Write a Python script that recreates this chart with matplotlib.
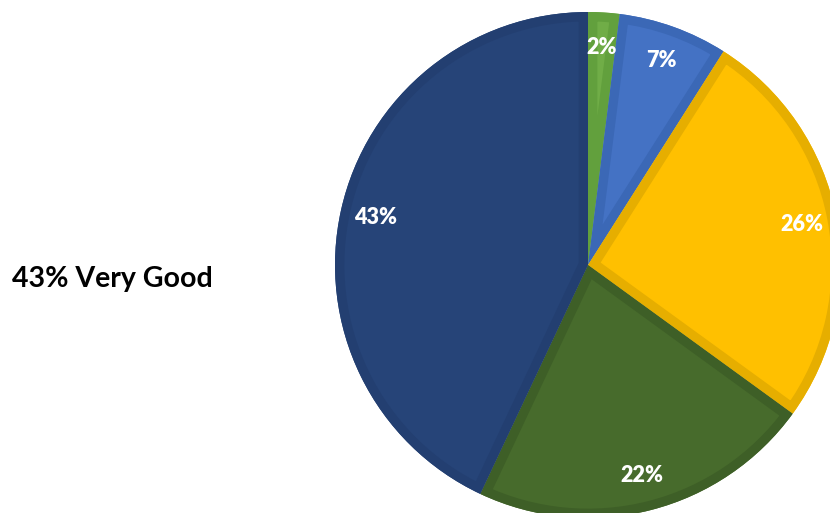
import matplotlib
matplotlib.use("Agg")
import matplotlib.pyplot as plt
from matplotlib.patches import PathPatch

# Rating shares, drawn clockwise from 12 o'clock
shares = [2, 7, 26, 22, 43]
fill_colors = ["#70AD47", "#4472C4", "#FFC000", "#476B2C", "#264478"]
edge_colors = ["#62A03D", "#3B68B6", "#E6AE00", "#3E5F27", "#233F71"]
headline = "43% Very Good"

FONT = ["Lato", "DejaVu Sans"]

W, H = 830, 513
fig = plt.figure(figsize=(W / 100, H / 100), dpi=100)
ax = fig.add_axes([0, 0, 1, 1])

cx, cy, R = 588, H - 265, 253
wedges, texts, autotexts = ax.pie(
    shares,
    colors=fill_colors,
    startangle=90,
    counterclock=False,
    center=(cx, cy),
    radius=R,
    autopct=lambda p: f"{p:.0f}%",
    pctdistance=0.86,
    wedgeprops=dict(linewidth=0),
    textprops=dict(color="white", fontsize=15.5, fontweight="heavy", family=FONT),
    frame=False,
)

# Darker inner border on each slice: a wide stroke clipped to the slice outline
for w, ec in zip(wedges, edge_colors):
    rim = PathPatch(w.get_path(), transform=w.get_transform(),
                    facecolor="none", edgecolor=ec, linewidth=13.5,
                    zorder=w.get_zorder() + 0.1)
    ax.add_patch(rim)
    rim.set_clip_path(w)

for t in autotexts:
    t.set_zorder(5)

ax.set_xlim(0, W)
ax.set_ylim(0, H)
ax.set_aspect("equal")
ax.axis("off")

fig.text(12 / W, 1 - 279 / H, headline, ha="left", va="center",
         fontsize=20.5, fontweight="bold", color="black", family=FONT)

fig.savefig("out.png", dpi=100, facecolor="white")
